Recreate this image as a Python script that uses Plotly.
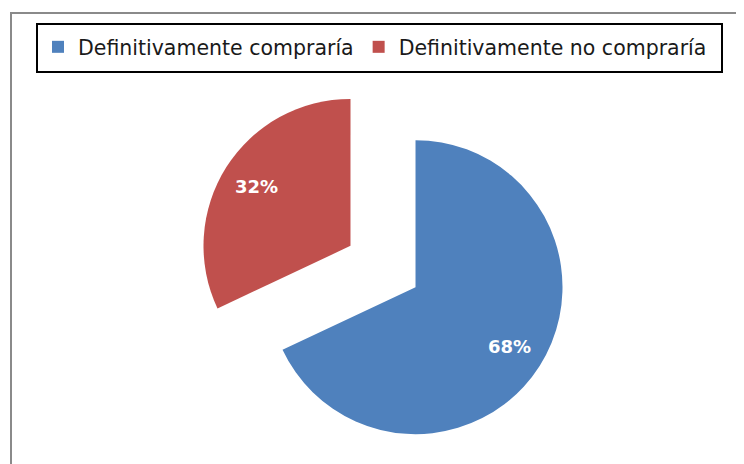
import math
import plotly.graph_objects as go

labels = ["Definitivamente compraría", "Definitivamente no compraría"]
values = [68, 32]
colors = ["#4F81BD", "#C0504D"]
pulls = [0.262, 0.262]

W, H = 744, 464
# pie centre (unexploded) and half-size of pie box, in px of the figure
cx, cy = 375, 258.5
half = 185.5
label_frac = 0.76

fig = go.Figure(go.Pie(
    labels=labels,
    values=values,
    sort=False,
    direction="clockwise",
    rotation=0,
    pull=pulls,
    marker=dict(colors=colors, line=dict(width=0)),
    textinfo="none",
    domain=dict(x=[(cx - half) / W, (cx + half) / W],
                y=[1 - (cy + half) / H, 1 - (cy - half) / H]),
    hoverinfo="label+percent",
))

# percentage labels placed along each slice's bisector
total = sum(values)
r = half / (1 + max(pulls))
annotations = []
start = 0.0
for v, p in zip(values, pulls):
    frac = v / total
    mid = (start + frac / 2) * 2 * math.pi
    dx, dy = math.sin(mid), -math.cos(mid)
    px = cx + (p + label_frac) * r * dx
    py = cy + (p + label_frac) * r * dy
    annotations.append(dict(
        x=px / W, y=1 - py / H, xref="paper", yref="paper",
        xanchor="center", yanchor="middle",
        text=f"{round(frac * 100)}%", showarrow=False,
        font=dict(color="white", size=18, family="DejaVu Sans", weight="bold"),
    ))
    start += frac

fig.update_layout(
    width=W, height=H,
    margin=dict(l=0, r=0, t=0, b=0),
    paper_bgcolor="white",
    plot_bgcolor="white",
    showlegend=True,
    legend=dict(
        orientation="h",
        x=30 / W, xanchor="left",
        y=1 - 19 / H, yanchor="top",
        bgcolor="rgba(0,0,0,0)",
        borderwidth=0,
        font=dict(family="DejaVu Sans", size=20.5, color="#1a1a1a"),
    ),
    annotations=annotations,
    shapes=[
        dict(type="rect", xref="paper", yref="paper",
             x0=3 / W, x1=1.05, y0=-0.05, y1=1 - 5 / H,
             line=dict(color="#8A8A8A", width=2), layer="below"),
        dict(type="rect", xref="paper", yref="paper",
             x0=29 / W, x1=714 / W, y0=1 - 64 / H, y1=1 - 16 / H,
             line=dict(color="black", width=2), layer="below"),
    ],
)

fig.write_html("out.html")
